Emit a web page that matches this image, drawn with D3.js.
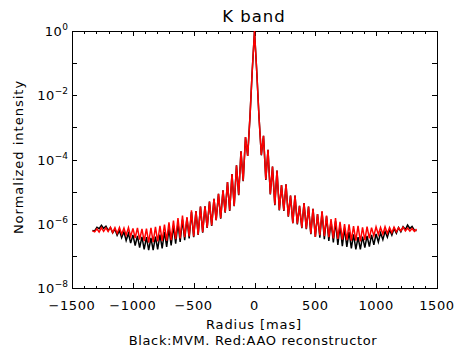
<!DOCTYPE html>
<html>
<head>
<meta charset="utf-8">
<script src="https://cdn.jsdelivr.net/npm/d3@7"></script>
<style>
  body { margin: 0; background: #fff; }
  svg text { font-family: "DejaVu Sans", sans-serif; fill: #000; }
</style>
</head>
<body>
<svg id="chart" width="458" height="347"></svg>
<script>
// radial cut positions [mas]
const radius = [
  -1332, -1314, -1295, -1277, -1258, -1240, -1221, -1203, -1184, -1166,
  -1147, -1129, -1110, -1092, -1073, -1055, -1036, -1018, -999, -981,
  -962, -944, -925, -907, -888, -870, -851, -833, -814, -796,
  -777, -759, -740, -722, -703, -685, -666, -648, -629, -611,
  -592, -574, -555, -537, -518, -500, -481, -463, -444, -426,
  -407, -389, -370, -352, -333, -315, -296, -278, -259, -241,
  -222, -204, -185, -167, -148, -130, -111, -93, -74, -56,
  -37, -19, 0,
  19, 37, 56, 74, 93, 111, 130, 148, 167, 185,
  204, 222, 241, 259, 278, 296, 315, 333, 352, 370,
  389, 407, 426, 444, 463, 481, 500, 518, 537, 555,
  574, 592, 611, 629, 648, 666, 685, 703, 722, 740,
  759, 777, 796, 814, 833, 851, 870, 888, 907, 925,
  944, 962, 981, 999, 1018, 1036, 1055, 1073, 1092, 1110,
  1129, 1147, 1166, 1184, 1203, 1221, 1240, 1258, 1277, 1295,
  1314, 1332
];

// Black: MVM reconstructor
const mvmProfile = [
  6.2e-7, 6.0e-7, 7.8e-7, 7.0e-7, 9.0e-7, 7.2e-7, 8.4e-7, 6.2e-7, 7.6e-7, 5.2e-7,
  6.8e-7, 4.4e-7, 6.2e-7, 3.7e-7, 5.6e-7, 3.0e-7, 5.0e-7, 2.5e-7, 4.5e-7, 2.1e-7,
  4.2e-7, 1.8e-7, 3.9e-7, 1.6e-7, 3.8e-7, 1.5e-7, 3.6e-7, 1.5e-7, 4.0e-7, 1.6e-7,
  4.6e-7, 1.7e-7, 5.6e-7, 1.9e-7, 7.0e-7, 2.1e-7, 8.6e-7, 2.4e-7, 1.05e-6, 2.7e-7,
  1.35e-6, 3.1e-7, 1.5e-6, 3.5e-7, 2.3e-6, 3.8e-7, 2.5e-6, 4.5e-7, 3.4e-6, 5.3e-7,
  3.5e-6, 7.4e-7, 4.9e-6, 8.6e-7, 6.0e-6, 1.3e-6, 8.6e-6, 1.45e-6, 1.1e-5, 2.2e-6,
  2.0e-5, 2.5e-6, 3.5e-5, 3.5e-6, 6.6e-5, 7.8e-6, 1.8e-4, 2.1e-5, 5.0e-4, 1.3e-4,
  2.2e-3, 5.5e-2, 1,
  5.0e-2, 2.1e-3, 1.35e-4, 5.5e-4, 2.3e-5, 2.0e-4, 8.2e-6, 6.0e-5, 3.8e-6, 4.5e-5,
  2.6e-6, 1.6e-5, 2.5e-6, 1.7e-5, 1.65e-6, 7.5e-6, 1.05e-6, 7.5e-6, 9.6e-7, 3.6e-6,
  7.3e-7, 4.4e-6, 6.8e-7, 3.4e-6, 4.7e-7, 2.9e-6, 3.9e-7, 2.0e-6, 3.7e-7, 2.3e-6,
  3.3e-7, 1.7e-6, 2.9e-7, 1.2e-6, 2.6e-7, 1.2e-6, 2.2e-7, 8.9e-7, 2.0e-7, 7.1e-7,
  1.9e-7, 5.6e-7, 1.7e-7, 4.7e-7, 1.6e-7, 3.8e-7, 1.6e-7, 4.0e-7, 1.8e-7, 4.2e-7,
  1.95e-7, 4.5e-7, 2.2e-7, 4.8e-7, 2.7e-7, 5.2e-7, 3.2e-7, 5.8e-7, 3.8e-7, 6.5e-7,
  4.4e-7, 7.1e-7, 5.0e-7, 7.6e-7, 5.6e-7, 8.1e-7, 6.6e-7, 9.1e-7, 7.1e-7, 8.3e-7,
  6.3e-7, 6.0e-7
];

// Red: AAO reconstructor
const aaoProfile = [
  6.0e-7, 5.6e-7, 7.0e-7, 5.5e-7, 7.6e-7, 5.8e-7, 7.4e-7, 5.7e-7, 7.8e-7, 5.3e-7,
  7.5e-7, 5.0e-7, 7.7e-7, 4.7e-7, 7.3e-7, 4.4e-7, 7.6e-7, 4.0e-7, 7.2e-7, 3.6e-7,
  7.4e-7, 3.2e-7, 6.9e-7, 2.9e-7, 7.1e-7, 2.6e-7, 7.5e-7, 2.7e-7, 8.0e-7, 2.8e-7,
  8.6e-7, 2.9e-7, 9.4e-7, 3.0e-7, 1.1e-6, 3.1e-7, 1.25e-6, 3.3e-7, 1.5e-6, 3.5e-7,
  1.8e-6, 3.8e-7, 1.6e-6, 4.0e-7, 2.6e-6, 4.0e-7, 2.5e-6, 4.6e-7, 3.4e-6, 5.5e-7,
  3.5e-6, 7.6e-7, 4.9e-6, 8.8e-7, 6.0e-6, 1.3e-6, 8.6e-6, 1.5e-6, 1.1e-5, 2.3e-6,
  2.0e-5, 2.6e-6, 3.5e-5, 3.6e-6, 6.6e-5, 8.0e-6, 1.8e-4, 2.2e-5, 5.0e-4, 1.3e-4,
  2.2e-3, 5.5e-2, 1,
  5.0e-2, 2.1e-3, 1.4e-4, 5.5e-4, 2.4e-5, 2.0e-4, 8.5e-6, 6.0e-5, 3.9e-6, 4.5e-5,
  2.7e-6, 1.6e-5, 2.6e-6, 1.7e-5, 1.7e-6, 7.5e-6, 1.05e-6, 7.5e-6, 1.0e-6, 3.6e-6,
  7.6e-7, 4.4e-6, 7.0e-7, 3.4e-6, 4.9e-7, 2.9e-6, 3.9e-7, 2.0e-6, 4.4e-7, 2.5e-6,
  4.1e-7, 1.8e-6, 3.8e-7, 1.4e-6, 3.5e-7, 1.5e-6, 3.4e-7, 1.15e-6, 3.2e-7, 9.8e-7,
  3.1e-7, 9.6e-7, 3.0e-7, 8.5e-7, 3.0e-7, 8.6e-7, 2.8e-7, 7.7e-7, 3.1e-7, 8.1e-7,
  3.5e-7, 7.6e-7, 4.2e-7, 8.0e-7, 4.6e-7, 7.7e-7, 4.7e-7, 8.1e-7, 5.0e-7, 7.6e-7,
  5.2e-7, 7.9e-7, 5.6e-7, 7.5e-7, 6.0e-7, 7.8e-7, 6.0e-7, 7.4e-7, 5.9e-7, 7.1e-7,
  5.8e-7, 6.8e-7
];

const xMajorTicks = [-1500, -1000, -500, 0, 500, 1000, 1500];
const xMinorTicks = [
  -1400, -1300, -1200, -1100, -900, -800, -700, -600, -400, -300, -200, -100,
  100, 200, 300, 400, 600, 700, 800, 900, 1100, 1200, 1300, 1400
];
const yTicks = [1e-8, 1e-7, 1e-6, 1e-5, 1e-4, 1e-3, 1e-2, 1e-1, 1];
const yLabelled = [1, 1e-2, 1e-4, 1e-6, 1e-8];
const yLabelExp = ["0", "\u22122", "\u22124", "\u22126", "\u22128"];

const svg = d3.select("#chart");
const plotLeft = 72, plotRight = 437, plotTop = 31, plotBottom = 288;

const x = d3.scaleLinear().domain([-1500, 1500]).range([plotLeft, plotRight]);
const y = d3.scaleLog().domain([1e-8, 1]).range([plotBottom, plotTop]);

// ticks, pointing inward on all four sides
function ticks(axis, transform) {
  const g = svg.append("g").attr("transform", transform).call(axis);
  g.select(".domain").remove();
  g.selectAll("line").attr("stroke", "#000").attr("shape-rendering", "crispEdges");
  g.selectAll("text").remove();
  return g;
}
ticks(d3.axisBottom(x).tickValues(xMajorTicks).tickSize(-5), `translate(0,${plotBottom})`);
ticks(d3.axisBottom(x).tickValues(xMinorTicks).tickSize(-2.5), `translate(0,${plotBottom})`);
ticks(d3.axisTop(x).tickValues(xMajorTicks).tickSize(-5), `translate(0,${plotTop})`);
ticks(d3.axisTop(x).tickValues(xMinorTicks).tickSize(-2.5), `translate(0,${plotTop})`);
ticks(d3.axisLeft(y).tickValues(yTicks).tickSize(-5), `translate(${plotLeft},0)`);
ticks(d3.axisRight(y).tickValues(yTicks).tickSize(-5), `translate(${plotRight},0)`);

// frame
svg.append("rect")
  .attr("x", plotLeft).attr("y", plotTop)
  .attr("width", plotRight - plotLeft).attr("height", plotBottom - plotTop)
  .attr("fill", "none").attr("stroke", "#000").attr("stroke-width", 1)
  .attr("shape-rendering", "crispEdges");

// x tick labels
svg.append("g").selectAll("text")
  .data(xMajorTicks)
  .join("text")
  .attr("x", d => x(d))
  .attr("y", 310)
  .attr("text-anchor", "middle")
  .attr("font-size", 13)
  .attr("letter-spacing", 0.6)
  .text(d3.format("d"));

// y tick labels 10^n
const yl = svg.append("g").selectAll("text")
  .data(yLabelled)
  .join("text")
  .attr("x", 68)
  .attr("y", d => y(d) + 5)
  .attr("text-anchor", "end")
  .attr("font-size", 13);
yl.append("tspan").attr("letter-spacing", 0.5).text("10");
yl.append("tspan").attr("font-size", 9).attr("dy", -6).text((d, i) => yLabelExp[i]);

// profiles
const line = d3.line()
  .x((d, i) => x(radius[i]))
  .y(d => y(d));

svg.append("path")
  .datum(mvmProfile)
  .attr("d", line)
  .attr("fill", "none")
  .attr("stroke", "#000")
  .attr("stroke-width", 1.5);

svg.append("path")
  .datum(aaoProfile)
  .attr("d", line)
  .attr("fill", "none")
  .attr("stroke", "#ff0000")
  .attr("stroke-width", 1.5);

// titles
svg.append("text")
  .attr("x", 254).attr("y", 22)
  .attr("text-anchor", "middle")
  .attr("font-size", 16.5)
  .attr("letter-spacing", 1)
  .text("K band");

svg.append("text")
  .attr("x", 254).attr("y", 329)
  .attr("text-anchor", "middle")
  .attr("font-size", 13)
  .attr("letter-spacing", 0.9)
  .text("Radius [mas]");

svg.append("text")
  .attr("x", 253).attr("y", 345)
  .attr("text-anchor", "middle")
  .attr("font-size", 13)
  .attr("letter-spacing", 0.65)
  .text("Black:MVM. Red:AAO reconstructor");

svg.append("text")
  .attr("transform", "translate(23,157) rotate(-90)")
  .attr("text-anchor", "middle")
  .attr("font-size", 13)
  .attr("letter-spacing", 1)
  .text("Normalized intensity");
</script>
</body>
</html>
